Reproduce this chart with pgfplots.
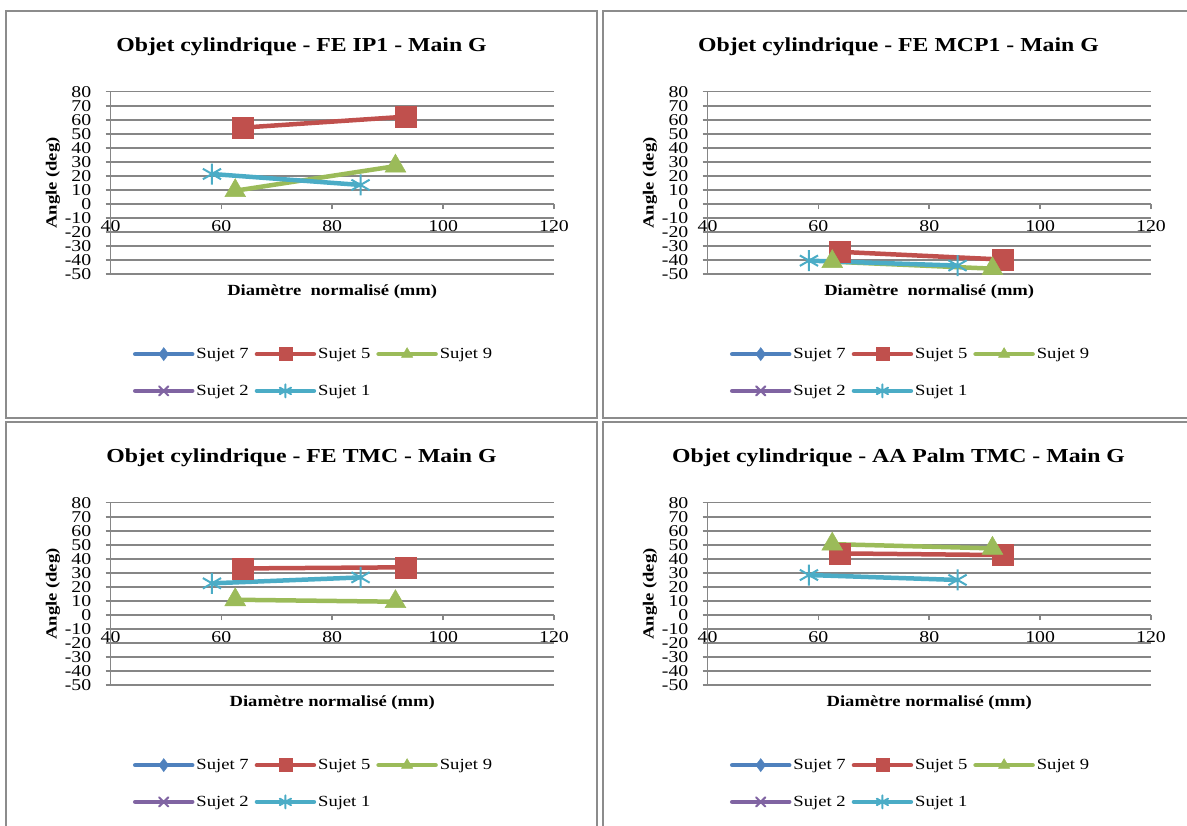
\documentclass[border=0pt]{standalone}
\usepackage{fontspec}
\setmainfont{Liberation Serif}[FakeStretch=1.2]
\usepackage{pgfplots}
\pgfplotsset{compat=1.18}

\definecolor{s7}{RGB}{79,129,189}
\definecolor{s5}{RGB}{192,80,77}
\definecolor{s9}{RGB}{155,187,89}
\definecolor{s2}{RGB}{128,100,162}
\definecolor{s1}{RGB}{75,172,198}
\definecolor{gridc}{RGB}{134,134,134}
\definecolor{framec}{RGB}{140,140,140}

\pgfplotsset{
  panel/.style={
    scale only axis, width=443.5pt, height=182.6pt,
    anchor=south west,
    xmin=40, xmax=120, ymin=-50, ymax=80,
    xtick={40,60,...,120}, ytick={-50,-40,...,80},
    axis x line=middle, axis y line=left,
    hide obscured x ticks=false, hide obscured y ticks=false,
    axis line style={gridc, line width=1.6pt, -},
    ymajorgrids, grid style={gridc, line width=1.6pt},
    tick style={gridc, line width=1.6pt},
    major tick length=5pt, tick align=outside,
    /pgf/number format/assume math mode=true,
    tick label style={font=\fontsize{16.5}{16.5}\selectfont, black},
    yticklabel style={inner xsep=0pt, xshift=-14pt},
    xticklabel style={inner ysep=0pt, yshift=-11pt},
    ylabel={Angle (deg)},
    every axis x label/.style={at={(axis description cs:0.5,-0.097)}, anchor=center,
      font=\bfseries\fontsize{15.5}{15.5}\selectfont},
    every axis y label/.style={at={(axis description cs:-0.1297,0.5)}, anchor=center, rotate=90,
      font=\bfseries\fontsize{15.5}{15.5}\selectfont},
    every axis title/.style={at={(axis description cs:0.4307,1.2448)}, anchor=center,
      font=\bfseries\fontsize{19.8}{19.8}\selectfont},
    legend columns=3,
    legend cell align=left,
    legend style={at={(axis description cs:0.0507,-0.538)}, anchor=west,
      draw=none, fill=none, inner sep=0pt, outer sep=0pt, row sep=21pt,
      font=\fontsize{15.5}{15.5}\selectfont,
      nodes={inner xsep=2pt},
      /tikz/every even column/.append style={column sep=4pt}},
    legend image code/.code={
      \draw[mark repeat=2, mark phase=2, line cap=round, #1, mark size=6.5pt]
        plot coordinates {(0pt,0pt) (28.5pt,0pt) (57pt,0pt)};},
    every axis plot/.append style={line width=4.5pt},
  },
  s7st/.style={color=s7, mark=diamond*, mark size=10pt, mark options={line width=0.5pt}},
  s5st/.style={color=s5, mark=square*, mark size=10.5pt, mark options={line width=0.5pt}},
  s9st/.style={color=s9, mark=triangle*, mark size=12pt, mark options={line width=0.5pt}},
  s2st/.style={color=s2, mark=x, mark size=10pt, mark options={line width=2pt}},
  s1st/.style={color=s1, mark=asterisk, mark size=10.5pt, mark options={line width=2pt}},
}

\begin{document}
\begin{tikzpicture}
\path[use as bounding box, clip] (0pt,0pt) rectangle (1187pt,826pt);
\draw[framec, line width=1.6pt] (6pt,815pt) rectangle (597pt,408pt);
\draw[framec, line width=1.6pt] (603pt,815pt) rectangle (1195pt,408pt);
\draw[framec, line width=1.6pt] (6pt,404pt) rectangle (597pt,-10pt);
\draw[framec, line width=1.6pt] (603pt,404pt) rectangle (1195pt,-10pt);

% FE IP1
\begin{axis}[panel, at={(110.5pt,551.7pt)},
  title={Objet cylindrique - FE IP1 - Main G},
  xlabel={Diamètre~ normalisé (mm)}]
  \addlegendimage{s7st}\addlegendentry{Sujet 7}
  \addplot[s5st] coordinates {(63.8,54.4) (93.2,62.2)};
  \addlegendentry{Sujet 5}
  \addplot[s9st] coordinates {(62.5,9.5) (91.4,27)};
  \addlegendentry{Sujet 9}
  \addlegendimage{s2st}\addlegendentry{Sujet 2}
  \addplot[s1st] coordinates {(58.3,21.4) (85.1,13.6)};
  \addlegendentry{Sujet 1}
\end{axis}

% FE MCP1
\begin{axis}[panel, at={(707.5pt,551.7pt)},
  title={Objet cylindrique - FE MCP1 - Main G},
  xlabel={Diamètre~ normalisé (mm)}]
  \addlegendimage{s7st}\addlegendentry{Sujet 7}
  \addplot[s5st] coordinates {(63.8,-34) (93.2,-39.5)};
  \addlegendentry{Sujet 5}
  \addplot[s9st] coordinates {(62.5,-41) (91.4,-46)};
  \addlegendentry{Sujet 9}
  \addlegendimage{s2st}\addlegendentry{Sujet 2}
  \addplot[s1st] coordinates {(58.3,-40.3) (85.1,-43.8)};
  \addlegendentry{Sujet 1}
\end{axis}

% FE TMC
\begin{axis}[panel, at={(110.5pt,140.7pt)},
  title={Objet cylindrique - FE TMC - Main G},
  xlabel={Diamètre normalisé (mm)}]
  \addlegendimage{s7st}\addlegendentry{Sujet 7}
  \addplot[s5st] coordinates {(63.8,33.2) (93.2,34)};
  \addlegendentry{Sujet 5}
  \addplot[s9st] coordinates {(62.5,10.9) (91.4,9.5)};
  \addlegendentry{Sujet 9}
  \addlegendimage{s2st}\addlegendentry{Sujet 2}
  \addplot[s1st] coordinates {(58.3,22.6) (85.1,26.8)};
  \addlegendentry{Sujet 1}
\end{axis}

% AA Palm TMC
\begin{axis}[panel, at={(707.5pt,140.7pt)},
  title={Objet cylindrique - AA Palm TMC - Main G},
  xlabel={Diamètre normalisé (mm)}]
  \addlegendimage{s7st}\addlegendentry{Sujet 7}
  \addplot[s5st] coordinates {(63.8,43.9) (93.2,42.7)};
  \addlegendentry{Sujet 5}
  \addplot[s9st] coordinates {(62.5,50.5) (91.4,47.5)};
  \addlegendentry{Sujet 9}
  \addlegendimage{s2st}\addlegendentry{Sujet 2}
  \addplot[s1st] coordinates {(58.3,28.5) (85.1,25)};
  \addlegendentry{Sujet 1}
\end{axis}
\end{tikzpicture}
\end{document}
